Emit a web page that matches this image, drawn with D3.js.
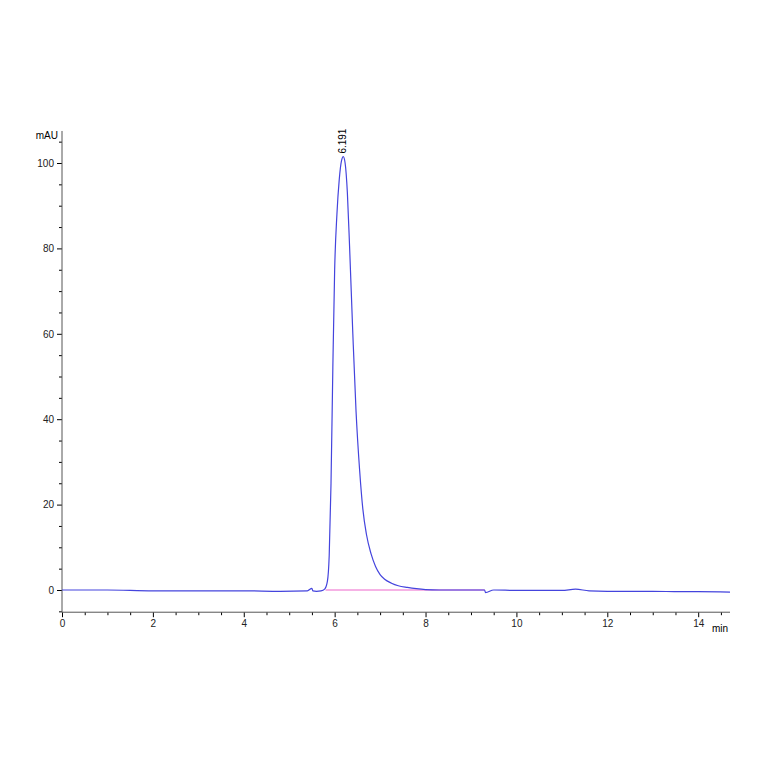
<!DOCTYPE html>
<html><head><meta charset="utf-8">
<script src="https://cdn.jsdelivr.net/npm/d3@7"></script>
<style>body{margin:0;background:#fff}</style>
</head><body><svg id="c"></svg>
<script>
// trace (min, mAU)
const times = [0, 1, 2, 3, 4, 4.8, 5.4, 5.5, 5.52, 5.6, 5.7, 5.78, 5.84, 5.88, 5.92, 5.96, 6.0, 6.05, 6.1, 6.15, 6.19, 6.23, 6.28, 6.33, 6.4, 6.47, 6.55, 6.62, 6.7, 6.8, 6.9, 7.0, 7.1, 7.25, 7.4, 7.6, 7.8, 8.0, 8.3, 8.6, 9.0, 9.3, 9.32, 9.5, 10, 11, 11.3, 11.6, 12, 13, 13.6, 14, 14.7];
const signal = [0, 0, -0.2, -0.2, -0.2, -0.3, -0.2, 0.4, -0.2, -0.3, -0.2, 0.2, 2, 8, 25, 52, 75, 88, 96, 100.5, 101.5, 100, 93, 80, 60, 42, 28, 19, 13, 8.5, 5.5, 3.6, 2.5, 1.6, 1.0, 0.6, 0.3, 0.1, 0, 0, 0, 0, -0.6, 0, -0.1, -0.1, 0.2, -0.2, -0.3, -0.3, -0.4, -0.4, -0.5];
const baseline = [[5.8, 0], [9.3, 0]];
const peakLabel = {t: 6.191, v: 101.5, text: "6.191"};
const xTicks = [0, 2, 4, 6, 8, 10, 12, 14];
const yTicks = [0, 20, 40, 60, 80, 100];

const svg = d3.select("#c").attr("width", 764).attr("height", 764);
const x = d3.scaleLinear().domain([0, 14.7]).range([62, 730]);
const y = d3.scaleLinear().domain([0, 100]).range([590, 163]);
const yMin = -5.2, yMax = 107.5;

const g = svg.append("g").style("font-family", "Liberation Sans, Arial").style("font-size", "10px");

g.append("g").attr("transform", `translate(0,${y(yMin)})`)
  .call(d3.axisBottom(x).tickValues(xTicks).tickSize(5).tickFormat(d3.format("d")).tickSizeOuter(0))
  .call(a => a.selectAll("text").attr("fill", "#222"));
g.append("g").attr("transform", `translate(0,${y(yMin)})`)
  .call(d3.axisBottom(x).tickValues(d3.range(0.5, 14.6, 0.5).filter(v => v % 2)).tickSize(3).tickFormat("").tickSizeOuter(0));
g.append("g").attr("transform", `translate(${x(0)},0)`)
  .call(d3.axisLeft(y).tickValues(yTicks).tickSize(5).tickSizeOuter(0))
  .call(a => a.selectAll("text").attr("fill", "#222"));
g.append("g").attr("transform", `translate(${x(0)},0)`)
  .call(d3.axisLeft(y).tickValues([-5, 5, 10, 15, 25, 30, 35, 45, 50, 55, 65, 70, 75, 85, 90, 95, 105].filter(v => v % 10 || true).filter(v => v % 20)).tickSize(3).tickFormat("").tickSizeOuter(0));
g.selectAll(".domain").remove();
g.append("line").attr("x1", x(0)).attr("x2", x(0)).attr("y1", y(yMin)).attr("y2", y(yMax)).attr("stroke", "#555");
g.append("line").attr("x1", x(0)).attr("x2", x(14.7)).attr("y1", y(yMin)).attr("y2", y(yMin)).attr("stroke", "#555");
g.append("text").attr("x", x(0) - 4).attr("y", y(yMax) + 8).attr("text-anchor", "end").text("mAU");
g.append("text").attr("x", x(14.7) - 2).attr("y", y(yMin) + 20).attr("text-anchor", "end").text("min");

const line = d3.line().x(d => x(d[0])).y(d => y(d[1])).curve(d3.curveMonotoneX);
svg.append("path").datum(baseline).attr("d", line).attr("fill", "none").attr("stroke", "#ee66cc").attr("stroke-width", 1.2);
svg.append("path").datum(times.map((t, i) => [t, signal[i]])).attr("d", line)
  .attr("fill", "none").attr("stroke", "#4444dd").attr("stroke-width", 1.2);

svg.append("text").attr("transform", `translate(${x(peakLabel.t) + 3},${y(peakLabel.v) - 3}) rotate(-90)`)
  .style("font-family", "Liberation Sans, Arial").style("font-size", "10px").text(peakLabel.text);
</script></body></html>
